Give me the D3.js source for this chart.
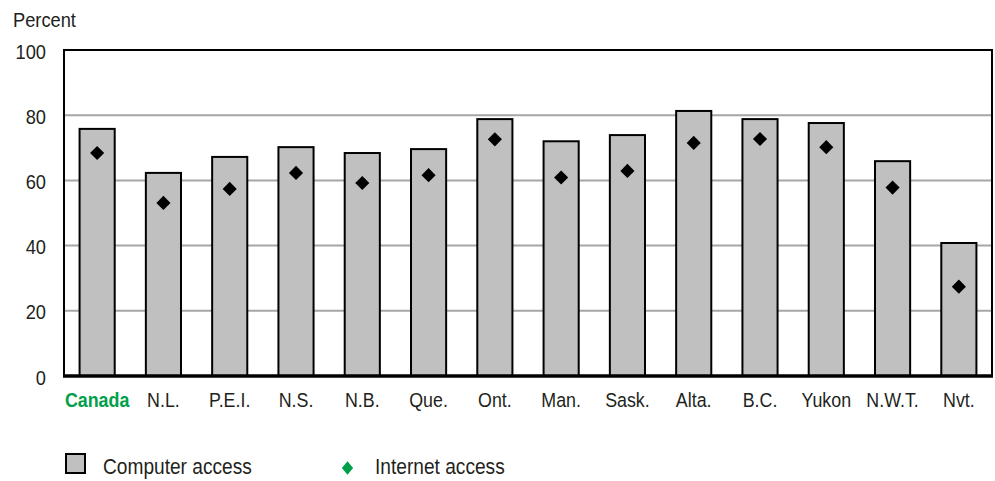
<!DOCTYPE html>
<html>
<head>
<meta charset="utf-8">
<script src="https://cdn.jsdelivr.net/npm/d3@7"></script>
<style>
  body { margin: 0; background: #fff; }
  text { font-family: "Liberation Sans", Arial, sans-serif; fill: #231f20; }
</style>
</head>
<body>
<div id="chart"></div>
<script>
// Data
var categories = ["Canada", "N.L.", "P.E.I.", "N.S.", "N.B.", "Que.", "Ont.", "Man.", "Sask.", "Alta.", "B.C.", "Yukon", "N.W.T.", "Nvt."];
var computerAccess = [75.8, 62.3, 67.2, 70.2, 68.4, 69.6, 78.8, 72.0, 73.9, 81.3, 78.8, 77.6, 65.9, 40.8];
var internetAccess = [68.4, 53.1, 57.4, 62.3, 59.2, 61.6, 72.6, 60.9, 62.9, 71.5, 72.7, 70.2, 57.8, 27.4];
var yTicks = [0, 20, 40, 60, 80, 100];

var width = 995, height = 481;
var margin = { left: 64, right: 3, top: 50, bottom: 105 };
var green = "#00a04b";
var narrow = 0.87; // squeeze text horizontally to mimic a condensed face

var svg = d3.select("#chart").append("svg")
    .attr("width", width)
    .attr("height", height);

var x = d3.scaleBand()
    .domain(categories)
    .range([margin.left, width - margin.right])
    .paddingInner(0.47)
    .paddingOuter(0.235);

var y = d3.scaleLinear()
    .domain([0, 100])
    .range([height - margin.bottom, margin.top]);

function at(px, py) {
    return "translate(" + px + "," + py + ") scale(" + narrow + ",1)";
}

// gridlines
svg.selectAll("line.grid")
    .data(yTicks.filter(d => d > 0 && d < 100))
    .enter().append("line")
    .attr("class", "grid")
    .attr("x1", margin.left).attr("x2", width - margin.right)
    .attr("y1", d => y(d)).attr("y2", d => y(d))
    .style("stroke", "#a6a6a6")
    .style("stroke-width", 2);

// frame top / right / left
svg.append("path")
    .attr("d", "M" + margin.left + "," + y(0) + "V" + y(100) + "H" + (width - margin.right) + "V" + y(0))
    .style("fill", "none")
    .style("stroke", "#000")
    .style("stroke-width", 2);

// bars
svg.selectAll("rect.bar")
    .data(computerAccess)
    .enter().append("rect")
    .attr("class", "bar")
    .attr("x", (d, i) => x(categories[i]))
    .attr("width", x.bandwidth())
    .attr("y", d => y(d))
    .attr("height", d => y(0) - y(d))
    .style("fill", "#c0c0c0")
    .style("stroke", "#000")
    .style("stroke-width", 2);

// diamonds
var sym = d3.symbol().type(d3.symbolSquare).size(100);
svg.selectAll("path.pt")
    .data(internetAccess)
    .enter().append("path")
    .attr("class", "pt")
    .attr("d", sym)
    .attr("transform", (d, i) => "translate(" + (x(categories[i]) + x.bandwidth() / 2) + "," + y(d) + ") rotate(45)")
    .style("fill", "#000");

// baseline
svg.append("line")
    .attr("x1", margin.left - 1).attr("x2", width - margin.right + 1)
    .attr("y1", y(0)).attr("y2", y(0))
    .style("stroke", "#000")
    .style("stroke-width", 3.5);

// y axis labels
svg.selectAll("text.ytick")
    .data(yTicks)
    .enter().append("text")
    .attr("class", "ytick")
    .attr("transform", d => at(46, y(d) + 8.5))
    .attr("text-anchor", "end")
    .style("font-size", "21px")
    .text(d => d);

svg.append("text")
    .attr("transform", at(13, 27))
    .style("font-size", "21px")
    .text("Percent");

// x labels
svg.selectAll("text.xtick")
    .data(categories)
    .enter().append("text")
    .attr("class", "xtick")
    .attr("transform", d => at(x(d) + x.bandwidth() / 2, 407))
    .attr("text-anchor", "middle")
    .style("font-size", "20.5px")
    .style("font-weight", (d, i) => i === 0 ? "bold" : "normal")
    .style("fill", (d, i) => i === 0 ? green : "#231f20")
    .text(d => d);

// legend
svg.append("rect")
    .attr("x", 66).attr("y", 454)
    .attr("width", 19).attr("height", 19)
    .style("fill", "#c0c0c0")
    .style("stroke", "#000")
    .style("stroke-width", 2);
svg.append("text")
    .attr("transform", at(103, 474))
    .style("font-size", "22px")
    .text("Computer access");

svg.append("path")
    .attr("d", d3.symbol().type(d3.symbolSquare).size(90))
    .attr("transform", "translate(347.5,468) scale(0.84,1) rotate(45)")
    .style("fill", green);
svg.append("text")
    .attr("transform", at(375, 474))
    .style("font-size", "22px")
    .text("Internet access");
</script>
</body>
</html>
